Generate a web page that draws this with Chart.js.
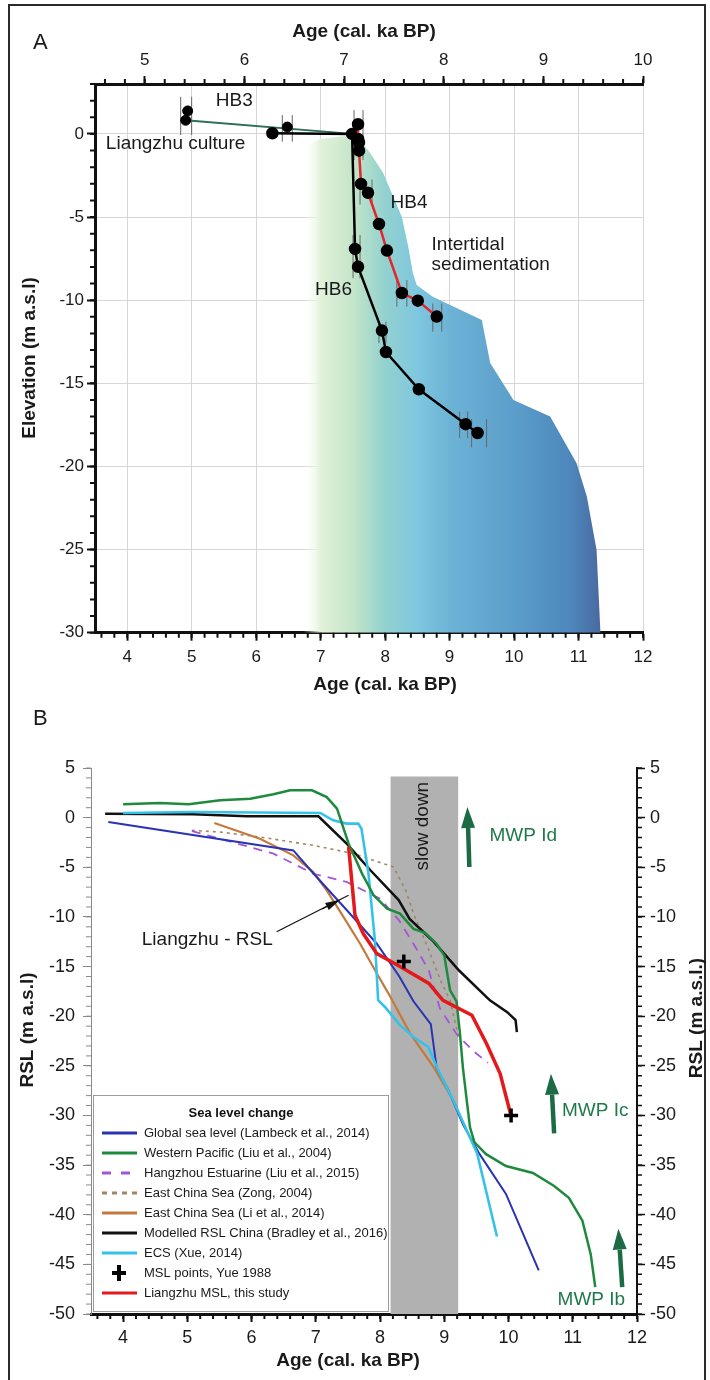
<!DOCTYPE html>
<html lang="en">
<head>
<meta charset="utf-8">
<script src="https://cdn.jsdelivr.net/npm/chart.js"></script>
<style>
    body { margin: 0; background: #fff; }
    #page { position: relative; width: 710px; height: 1380px; overflow: hidden; background: #fff; }
    #frame { position: absolute; left: 8px; top: 4px; width: 694px; height: 1420px; border: 2px solid #2a2a2a; }
    canvas { position: absolute; left: 0; }
    #chartA { top: 0; }
    #chartB { top: 700px; }
    .tag { position: absolute; font: 22px "Liberation Sans", Arial, sans-serif; color: #1a1a1a; }
</style>
</head>
<body>
<div id="page">
    <div id="frame"></div>
    <canvas id="chartA" width="710" height="700"></canvas>
    <canvas id="chartB" width="710" height="680"></canvas>
    <div class="tag" style="left:33px; top:29px;">A</div>
    <div class="tag" style="left:33px; top:705px;">B</div>
</div>

<script>
    // ---------- panel A : cores (ages read on the upper axis) ----------
    const hb3Age = [5.43, 5.41, 6.43];
    const hb3Elev = [1.38, 0.82, 0.41];
    const hb3LineAge = [5.41, 7.08];
    const hb3LineElev = [0.82, 0.0];

    const hb6Age = [6.28, 7.08, 7.11, 7.14, 7.38, 7.42, 7.75, 8.22, 8.34];
    const hb6Elev = [0.04, 0.0, -6.92, -7.99, -11.83, -13.12, -15.36, -17.46, -17.99];

    const hb4Age = [7.14, 7.14, 7.15, 7.15, 7.17, 7.24, 7.35, 7.43, 7.58, 7.74, 7.93];
    const hb4Elev = [0.58, -0.31, -0.51, -1.01, -3.01, -3.54, -5.42, -7.02, -9.57, -10.03, -10.99];

    // age uncertainty brackets: centre, half width (ka), half height (m)
    const errAge = [5.415, 6.43, 7.145, 7.22, 7.58, 7.935, 7.125, 7.385, 8.2, 8.355];
    const errElev = [1.08, 0.33, -0.07, -3.5, -9.59, -11.05, -7.38, -11.94, -17.5, -18.0];
    const errHalfAge = [0.055, 0.05, 0.045, 0.06, 0.05, 0.045, 0.035, 0.035, 0.04, 0.075];
    const errHalfElev = [1.15, 0.8, 1.5, 0.75, 0.8, 0.85, 1.3, 0.65, 0.8, 0.85];

    // intertidal sedimentation envelope (lower age axis)
    const zoneOuterAge = [7.48, 7.58, 7.77, 7.97, 8.26, 8.36, 8.43, 8.49, 8.74, 9.50, 9.63, 9.99, 10.56, 10.97, 11.13, 11.28, 11.34];
    const zoneOuterElev = [-0.13, -0.25, -1.15, -2.35, -5.0, -6.8, -8.37, -9.09, -9.79, -11.19, -13.78, -16.0, -17.0, -19.81, -21.82, -25.02, -30];
    const zoneInnerAge = [6.72, 6.78, 6.99, 7.3];
    const zoneInnerElev = [-30, -0.67, -0.31, -0.16];

    const ageTicksA = [4, 5, 6, 7, 8, 9, 10, 11, 12];
    const ageTopTicksA = [5, 6, 7, 8, 9, 10];
    const elevTicksA = [-30, -25, -20, -15, -10, -5, 0];

    const noteTextA = ['HB3', 'Liangzhu culture', 'HB4', 'Intertidal', 'sedimentation', 'HB6'];
    const noteAgeA = [5.66, 4.75, 8.37, 8.72, 8.72, 7.2];
    const noteElevA = [2.0, -0.57, -4.17, -6.64, -7.88, -9.39];

    // ---------- panel B : relative sea level curves ----------
    const globalAge = [3.77, 6.65, 6.96, 7.48, 7.95, 8.3, 8.52, 8.79, 8.88, 9.06, 9.29, 9.55, 9.96, 10.47];
    const globalRsl = [-0.44, -3.3, -5.6, -9.3, -12.7, -16.0, -18.5, -20.8, -25.2, -27.4, -30.9, -33.9, -37.9, -45.6];

    const wpacAge = [4.0, 4.57, 5.02, 5.51, 5.98, 6.34, 6.6, 6.94, 7.17, 7.33, 7.51, 7.72, 7.9, 8.11, 8.31, 8.52, 8.7, 8.88, 9.0, 9.09, 9.19, 9.24, 9.29, 9.35, 9.4, 9.47, 9.65, 9.96, 10.38, 10.71, 10.94, 11.15, 11.28, 11.35];
    const wpacRsl = [1.34, 1.47, 1.34, 1.74, 1.91, 2.35, 2.75, 2.75, 2.07, 0.91, -2.62, -5.64, -7.82, -9.16, -9.67, -11.2, -11.6, -12.7, -13.9, -17.4, -18.5, -21.5, -25.2, -28.5, -31.2, -32.7, -33.9, -35.1, -35.8, -37.1, -38.3, -40.6, -44.0, -47.3];

    const hangzhouAge = [5.07, 5.82, 6.34, 6.96, 7.48, 8.0, 8.29, 8.52, 8.76, 8.88, 8.93, 9.19, 9.45, 9.68];
    const hangzhouRsl = [-1.35, -2.69, -3.63, -5.64, -6.48, -8.16, -10.3, -12.7, -15.4, -18.1, -19.2, -21.8, -23.5, -24.7];

    const zongAge = [5.07, 5.51, 6.13, 6.96, 7.59, 8.21, 8.4, 8.52, 8.76, 8.94, 9.09, 9.19, 9.24];
    const zongRsl = [-1.28, -1.45, -1.95, -2.79, -3.63, -4.97, -7.32, -9.67, -13.36, -16.38, -18.4, -21.2, -22.3];

    const liAge = [5.42, 6.13, 6.65, 6.96, 7.17, 7.43, 7.69, 7.95, 8.13, 8.47, 8.83, 9.14, 9.2];
    const liRsl = [-0.54, -2.12, -3.8, -5.48, -7.32, -10.0, -12.7, -15.7, -17.7, -21.75, -25.1, -28.5, -29.2];

    const modelAge = [3.72, 5.09, 5.93, 7.04, 7.48, 7.85, 8.29, 8.46, 8.82, 9.23, 9.71, 9.98, 10.11, 10.13];
    const modelRsl = [0.4, 0.33, 0.13, 0.13, -2.62, -5.3, -8.3, -10.2, -12.4, -15.4, -18.4, -19.6, -20.4, -21.6];

    const xueAge = [4.0, 5.09, 7.07, 7.27, 7.48, 7.66, 7.71, 7.82, 7.92, 7.97, 8.08, 8.31, 8.52, 8.75, 8.88, 9.14, 9.51, 9.82];
    const xueRsl = [0.47, 0.57, 0.47, -0.27, -0.6, -0.6, -1.1, -5.64, -12.4, -18.4, -19.1, -20.9, -22.1, -23.1, -25.1, -28.5, -33.8, -42.2];

    const mslAge = [8.37, 10.04];
    const mslRsl = [-14.5, -30.0];

    const liangzhuAge = [7.51, 7.61, 7.74, 7.95, 8.31, 8.76, 8.98, 9.43, 9.66, 9.87, 10.03];
    const liangzhuRsl = [-2.96, -9.84, -11.7, -13.7, -15.0, -16.7, -18.4, -19.9, -22.8, -25.8, -29.8];

    const slowDownAge = [8.16, 9.22];
    const slowDownTop = 4.15;

    const mwpLabels = ['MWP Id', 'MWP Ic', 'MWP Ib'];
    const mwpTailAge = [9.39, 10.71, 11.77];
    const mwpTailRsl = [-4.97, -31.8, -47.3];
    const mwpTipAge = [9.36, 10.66, 11.71];
    const mwpTipRsl = [1.07, -25.8, -41.4];
    const mwpLabelAge = [10.23, 11.35, 11.29];
    const mwpLabelRsl = [-1.78, -29.5, -48.6];

    const ageTicksB = [4, 5, 6, 7, 8, 9, 10, 11, 12];
    const rslTicksB = [-50, -45, -40, -35, -30, -25, -20, -15, -10, -5, 0, 5];

    const legendTitle = 'Sea level change';

    // ---------- helpers ----------
    const F = '"Liberation Sans", Arial, Helvetica, sans-serif';
    Chart.defaults.font.family = F;
    Chart.defaults.color = '#1a1a1a';

    function pts(xs, ys) {
        return xs.map(function (x, i) { return {x: x, y: ys[i]}; });
    }

    function fixedTicks(values) {
        return function (scale) { scale.ticks = values.map(function (v) { return {value: v}; }); };
    }

    // minor tick marks along axes
    function minorTicks(list) {
        return {
            id: 'minorTicks',
            afterDraw: function (chart) {
                const ctx = chart.ctx;
                list.forEach(function (m) {
                    const s = chart.scales[m.id];
                    ctx.save();
                    ctx.strokeStyle = m.color;
                    ctx.lineWidth = m.width;
                    ctx.beginPath();
                    const n = Math.round((s.max - s.min) / m.step);
                    const first = Math.ceil(s.min / m.step - 1e-6);
                    for (let k = first; k * m.step <= s.max + 1e-6; k++) {
                        const p = s.getPixelForValue(k * m.step);
                        if (s.position === 'bottom') { ctx.moveTo(p, s.top); ctx.lineTo(p, s.top + m.len); }
                        if (s.position === 'top') { ctx.moveTo(p, s.bottom); ctx.lineTo(p, s.bottom - m.len); }
                        if (s.position === 'left') { ctx.moveTo(s.right, p); ctx.lineTo(s.right - m.len, p); }
                        if (s.position === 'right') { ctx.moveTo(s.left, p); ctx.lineTo(s.left + m.len, p); }
                    }
                    ctx.stroke();
                    ctx.restore();
                });
            }
        };
    }

    // free text: either in data units (xs/ys scale ids) or in canvas pixels
    function textLayer(items) {
        return {
            id: 'textLayer',
            afterDatasetsDraw: function (chart) {
                const ctx = chart.ctx;
                items.forEach(function (t) {
                    let px = t.px, py = t.py;
                    if (px === undefined) {
                        px = chart.scales[t.xs || 'x'].getPixelForValue(t.x);
                        py = chart.scales[t.ys || 'y'].getPixelForValue(t.y);
                    }
                    ctx.save();
                    ctx.translate(px, py);
                    if (t.rot) ctx.rotate(t.rot * Math.PI / 180);
                    ctx.font = t.font;
                    ctx.fillStyle = t.color || '#1a1a1a';
                    ctx.textAlign = t.align || 'center';
                    ctx.textBaseline = 'middle';
                    ctx.fillText(t.text, 0, 0);
                    ctx.restore();
                });
            }
        };
    }

    function drawArrow(ctx, x0, y0, x1, y1, shaft, headLen, headW, color) {
        const a = Math.atan2(y1 - y0, x1 - x0);
        const bx = x1 - Math.cos(a) * headLen, by = y1 - Math.sin(a) * headLen;
        ctx.save();
        ctx.strokeStyle = color; ctx.fillStyle = color; ctx.lineWidth = shaft;
        ctx.beginPath(); ctx.moveTo(x0, y0); ctx.lineTo(bx, by); ctx.stroke();
        ctx.beginPath();
        ctx.moveTo(x1, y1);
        ctx.lineTo(bx + Math.sin(a) * headW / 2, by - Math.cos(a) * headW / 2);
        ctx.lineTo(bx - Math.sin(a) * headW / 2, by + Math.cos(a) * headW / 2);
        ctx.closePath(); ctx.fill();
        ctx.restore();
    }

    const noFx = {animation: false, responsive: false, events: []};

    // ================= PANEL A =================
    const errPoints = [];
    errAge.forEach(function (a, i) {
        errPoints.push({x: a - errHalfAge[i], y: errElev[i], dy: errHalfElev[i]});
        errPoints.push({x: a + errHalfAge[i], y: errElev[i], dy: errHalfElev[i]});
    });

    const zonePoints = pts(zoneOuterAge, zoneOuterElev).concat(pts(zoneInnerAge, zoneInnerElev));

    const zoneStops = [[6.72, 'rgba(255,255,255,0)'], [7.0, '#e2f1da'], [7.5, '#c4e5c9'], [8.0, '#92d1cf'],
                       [8.5, '#7ec7df'], [9.0, '#6db3d6'], [10.0, '#5b9ecb'], [10.9, '#4d86bb'], [11.35, '#4a699f']];

    const notesA = noteTextA.map(function (t, i) {
        return {text: t, x: noteAgeA[i], y: noteElevA[i], font: '19px ' + F, align: (t === 'Intertidal' || t === 'sedimentation') ? 'left' : 'center'};
    });
    notesA.push({text: 'Age (cal. ka BP)', px: 364, py: 32, font: 'bold 19px ' + F});
    notesA.push({text: 'Age (cal. ka BP)', px: 385, py: 685, font: 'bold 19px ' + F});
    notesA.push({text: 'Elevation (m a.s.l)', px: 30, py: 358, rot: -90, font: 'bold 19px ' + F});

    const axisFont = {family: F, size: 17};

    new Chart(document.getElementById('chartA'), {
        type: 'scatter',
        data: {
            datasets: [
                {
                    label: 'HB4', data: pts(hb4Age, hb4Elev), xAxisID: 'x2', showLine: true, order: 0,
                    borderColor: '#e2262a', borderWidth: 2.5, pointRadius: 5,
                    pointBackgroundColor: '#000', pointBorderColor: '#000'
                },
                {
                    label: 'HB6', data: pts(hb6Age, hb6Elev), xAxisID: 'x2', showLine: true, order: 1,
                    borderColor: '#000', borderWidth: 2.5, pointRadius: 5,
                    pointBackgroundColor: '#000', pointBorderColor: '#000'
                },
                {
                    label: 'HB3', data: pts(hb3Age, hb3Elev), xAxisID: 'x2', order: 2,
                    pointRadius: 5, pointBackgroundColor: '#000', pointBorderColor: '#000'
                },
                {
                    label: 'HB3 trend', data: pts(hb3LineAge, hb3LineElev), xAxisID: 'x2', showLine: true, order: 3,
                    borderColor: '#2f6e58', borderWidth: 1.8, pointRadius: 0
                },
                {
                    label: 'age error', data: errPoints, xAxisID: 'x2', order: 4,
                    pointStyle: 'line', rotation: 90, borderColor: '#666', borderWidth: 1,
                    pointBorderColor: '#666', pointBorderWidth: 1,
                    pointRadius: function (c) {
                        const s = c.chart.scales.y;
                        if (!c.raw || !s) return 10;
                        return Math.abs(s.getPixelForValue(c.raw.y + c.raw.dy) - s.getPixelForValue(c.raw.y));
                    }
                },
                {
                    label: 'Intertidal sedimentation', data: zonePoints, xAxisID: 'x', showLine: true, order: 9,
                    borderWidth: 0, pointRadius: 0, fill: 'shape',
                    backgroundColor: function (c) {
                        const ch = c.chart;
                        if (!ch.chartArea) return 'rgba(0,0,0,0)';
                        const sx = ch.scales.x;
                        const x0 = sx.getPixelForValue(zoneStops[0][0]);
                        const x1 = sx.getPixelForValue(zoneStops[zoneStops.length - 1][0]);
                        const g = ch.ctx.createLinearGradient(x0, 0, x1, 0);
                        zoneStops.forEach(function (st) {
                            g.addColorStop((sx.getPixelForValue(st[0]) - x0) / (x1 - x0), st[1]);
                        });
                        return g;
                    }
                }
            ]
        },
        options: Object.assign({}, noFx, {
            layout: {padding: {left: 0, right: 67, top: 0, bottom: 0}},
            plugins: {legend: {display: false}, tooltip: {enabled: false}},
            scales: {
                x: {
                    type: 'linear', position: 'bottom', min: 3.5, max: 12,
                    afterBuildTicks: fixedTicks(ageTicksA),
                    afterFit: function (s) { s.height = 67.3; },
                    ticks: {font: axisFont, color: '#1a1a1a', padding: 6, maxRotation: 0, autoSkip: false},
                    grid: {color: '#d6d6d6', lineWidth: 1, tickColor: '#111', tickLength: 8, tickWidth: 2},
                    border: {color: '#111', width: 3}
                },
                x2: {
                    type: 'linear', position: 'top', min: 4.5, max: 10,
                    afterBuildTicks: fixedTicks(ageTopTicksA),
                    afterFit: function (s) { s.height = 84; },
                    ticks: {font: axisFont, color: '#1a1a1a', padding: 5, maxRotation: 0, autoSkip: false},
                    grid: {drawOnChartArea: false, tickColor: '#111', tickLength: 8, tickWidth: 2},
                    border: {color: '#111', width: 3}
                },
                y: {
                    type: 'linear', position: 'left', min: -30, max: 3,
                    afterBuildTicks: fixedTicks(elevTicksA),
                    afterFit: function (s) { s.width = 95; },
                    ticks: {font: axisFont, color: '#1a1a1a', padding: 3},
                    grid: {color: '#d6d6d6', lineWidth: 1, tickColor: '#111', tickLength: 8, tickWidth: 2},
                    border: {color: '#111', width: 3}
                }
            }
        }),
        plugins: [
            minorTicks([
                {id: 'x', step: 0.2, len: 5, color: '#111', width: 2},
                {id: 'x2', step: 0.2, len: 5, color: '#111', width: 2},
                {id: 'y', step: 1, len: 5, color: '#111', width: 2}
            ]),
            textLayer(notesA)
        ]
    });

    // ================= PANEL B =================
    const seriesB = [
        {label: 'Global sea level (Lambeck et al., 2014)', ax: globalAge, ay: globalRsl, color: '#2a33b3', w: 2, dash: [], order: 5},
        {label: 'Western Pacific (Liu et al., 2004)', ax: wpacAge, ay: wpacRsl, color: '#1f8a3e', w: 2.5, dash: [], order: 2},
        {label: 'Hangzhou Estuarine (Liu et al., 2015)', ax: hangzhouAge, ay: hangzhouRsl, color: '#a355d6', w: 1.8, dash: [9, 7], order: 7},
        {label: 'East China Sea (Zong, 2004)', ax: zongAge, ay: zongRsl, color: '#a08662', w: 1.6, dash: [3, 4], order: 8},
        {label: 'East China Sea (Li et al., 2014)', ax: liAge, ay: liRsl, color: '#c47a3e', w: 2.2, dash: [], order: 6},
        {label: 'Modelled RSL China (Bradley et al., 2016)', ax: modelAge, ay: modelRsl, color: '#111111', w: 2.5, dash: [], order: 4},
        {label: 'ECS (Xue, 2014)', ax: xueAge, ay: xueRsl, color: '#35c2e8', w: 2.6, dash: [], order: 3}
    ];

    const datasetsB = seriesB.map(function (s) {
        return {
            label: s.label, data: pts(s.ax, s.ay), showLine: true, order: s.order,
            borderColor: s.color, borderWidth: s.w, borderDash: s.dash, pointRadius: 0
        };
    });
    datasetsB.push({
        label: 'MSL points, Yue 1988', data: pts(mslAge, mslRsl), order: 0,
        pointStyle: 'cross', pointRadius: 7, pointBorderWidth: 3.5, pointBorderColor: '#000', borderColor: '#000'
    });
    datasetsB.push({
        label: 'Liangzhu MSL, this study', data: pts(liangzhuAge, liangzhuRsl), showLine: true, order: 1,
        borderColor: '#e3191c', borderWidth: 3.5, pointRadius: 0
    });
    datasetsB.push({
        label: 'slow down', data: pts(slowDownAge, [slowDownTop, slowDownTop]), showLine: true, order: 20,
        borderWidth: 0, pointRadius: 0, fill: {value: -50}, backgroundColor: '#b1b1b1'
    });

    const legendOrder = datasetsB.slice(0, 9).map(function (d) { return d.label; });

    const legendLayer = {
        id: 'legendLayer',
        afterDraw: function (chart) {
            const ctx = chart.ctx, ca = chart.chartArea;
            const L = ca.left + 2, R = ca.left + 298, T = ca.top + 327, B = ca.bottom - 2;
            ctx.save();
            ctx.fillStyle = '#fff';
            ctx.fillRect(L, T, R - L, B - T);
            ctx.strokeStyle = '#9c9c9c'; ctx.lineWidth = 1;
            ctx.strokeRect(L + 0.5, T + 0.5, R - L - 1, B - T - 1);
            ctx.fillStyle = '#111'; ctx.textBaseline = 'middle';
            ctx.font = 'bold 13px ' + F; ctx.textAlign = 'center';
            ctx.fillText(legendTitle, (L + R) / 2, T + 18);
            ctx.font = '13px ' + F; ctx.textAlign = 'left';
            legendOrder.forEach(function (lab, i) {
                const ds = chart.data.datasets.find(function (d) { return d.label === lab; });
                const y = T + 38 + i * 20;
                if (ds.pointStyle === 'cross') {
                    ctx.strokeStyle = '#000'; ctx.lineWidth = 4;
                    ctx.beginPath();
                    ctx.moveTo(119, y - 8); ctx.lineTo(119, y + 8);
                    ctx.moveTo(112, y); ctx.lineTo(126, y);
                    ctx.stroke();
                } else {
                    ctx.strokeStyle = ds.borderColor; ctx.lineWidth = 3;
                    ctx.setLineDash(ds.borderDash && ds.borderDash.length ? (ds.borderDash[0] > 5 ? [9, 10] : [5, 5]) : []);
                    ctx.beginPath(); ctx.moveTo(L + 9, y); ctx.lineTo(L + 44, y); ctx.stroke();
                    ctx.setLineDash([]);
                }
                ctx.fillStyle = '#1a1a1a';
                ctx.fillText(lab, L + 51, y);
            });
            ctx.restore();
        }
    };

    const arrowLayer = {
        id: 'arrowLayer',
        afterDatasetsDraw: function (chart) {
            const ctx = chart.ctx, sx = chart.scales.x, sy = chart.scales.y;
            mwpLabels.forEach(function (lab, i) {
                drawArrow(ctx, sx.getPixelForValue(mwpTailAge[i]), sy.getPixelForValue(mwpTailRsl[i]),
                    sx.getPixelForValue(mwpTipAge[i]), sy.getPixelForValue(mwpTipRsl[i]), 4.5, 21, 14, '#1d6b44');
            });
            // pointer from the "Liangzhu - RSL" label
            const x0 = sx.getPixelForValue(6.39), y0 = sy.getPixelForValue(-11.5);
            const x1 = sx.getPixelForValue(7.51), y1 = sy.getPixelForValue(-7.82);
            ctx.save();
            ctx.strokeStyle = '#111'; ctx.lineWidth = 1.2;
            ctx.beginPath(); ctx.moveTo(x0, y0); ctx.lineTo(x1, y1); ctx.stroke();
            ctx.restore();
            drawArrow(ctx, sx.getPixelForValue(7.1), sy.getPixelForValue(-9.2),
                sx.getPixelForValue(7.38), sy.getPixelForValue(-8.26), 1.2, 15, 8, '#111');
        }
    };

    const notesB = mwpLabels.map(function (t, i) {
        return {text: t, x: mwpLabelAge[i], y: mwpLabelRsl[i], font: '19px ' + F, color: '#1f7a4a'};
    });
    notesB.push({text: 'slow down', x: 8.67, y: -0.86, rot: -90, font: '19px ' + F});
    notesB.push({text: 'Liangzhu - RSL', x: 5.31, y: -12.29, font: '19px ' + F});
    notesB.push({text: 'Age (cal. ka BP)', px: 348, py: 661, font: 'bold 19px ' + F});
    notesB.push({text: 'RSL (m a.s.l)', px: 28, py: 330, rot: -90, font: 'bold 19px ' + F});
    notesB.push({text: 'RSL (m a.s.l.)', px: 697, py: 318, rot: -90, font: 'bold 19px ' + F});

    const axisFontB = {family: F, size: 18};

    new Chart(document.getElementById('chartB'), {
        type: 'scatter',
        data: {datasets: datasetsB},
        options: Object.assign({}, noFx, {
            layout: {padding: {left: 0, right: 0, top: 68, bottom: 0}},
            plugins: {legend: {display: false}, tooltip: {enabled: false}},
            scales: {
                x: {
                    type: 'linear', position: 'bottom', min: 3.5, max: 12,
                    afterBuildTicks: fixedTicks(ageTicksB),
                    afterFit: function (s) { s.height = 66; },
                    ticks: {font: axisFontB, color: '#1a1a1a', padding: 5, maxRotation: 0, autoSkip: false},
                    grid: {drawOnChartArea: false, tickColor: '#111', tickLength: 8, tickWidth: 2},
                    border: {color: '#111', width: 3}
                },
                y: {
                    type: 'linear', position: 'left', min: -50, max: 5,
                    afterBuildTicks: fixedTicks(rslTicksB),
                    afterFit: function (s) { s.width = 91; },
                    ticks: {font: axisFontB, color: '#1a1a1a', padding: 8},
                    grid: {drawOnChartArea: false, tickColor: '#8a8a8a', tickLength: 8, tickWidth: 1},
                    border: {color: '#8a8a8a', width: 1}
                },
                y2: {
                    type: 'linear', position: 'right', min: -50, max: 5,
                    afterBuildTicks: fixedTicks(rslTicksB),
                    afterFit: function (s) { s.width = 73; },
                    ticks: {font: axisFontB, color: '#1a1a1a', padding: 5},
                    grid: {drawOnChartArea: false, tickColor: '#111', tickLength: 8, tickWidth: 1.5},
                    border: {color: '#111', width: 2}
                }
            }
        }),
        plugins: [
            minorTicks([
                {id: 'x', step: 0.2, len: 5, color: '#111', width: 2},
                {id: 'y', step: 1, len: 5, color: '#8a8a8a', width: 1},
                {id: 'y2', step: 1, len: 5, color: '#111', width: 1.5}
            ]),
            arrowLayer,
            textLayer(notesB),
            legendLayer
        ]
    });
</script>
</body>
</html>
